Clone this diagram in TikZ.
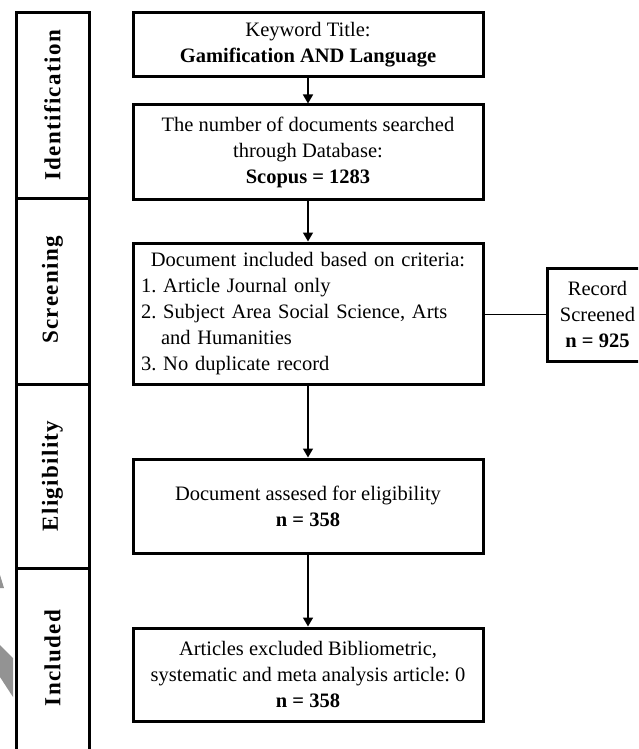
\documentclass[tikz,border=0pt]{standalone}
\usepackage{fontspec}
\setmainfont{Liberation Serif}
\newfontfamily\sidefont[LetterSpace=6]{Liberation Serif}
\usetikzlibrary{arrows.meta}
\frenchspacing
\begin{document}
\begin{tikzpicture}[x=1pt,y=-1pt,
  body/.style={font=\frenchspacing\fontsize{20.5}{26}\selectfont},
  mainbox/.style={draw=black,line width=3pt,minimum width=350pt,inner sep=0pt,align=center,body},
  cell/.style={draw=black,line width=3pt,minimum width=73pt,inner sep=0pt},
  sidelbl/.style={rotate=90,font=\sidefont\fontsize{23}{26}\selectfont\bfseries},
  arr/.style={line width=1.6pt,-{Triangle[width=10pt,length=9pt]}},
  conn/.style={line width=1.6pt}]
\useasboundingbox (0,0) rectangle (638,749);
\begin{scope}
\clip (0,0) rectangle (638,749);
% watermark fragments
\fill[gray!85] (0,575) -- (4,588) -- (0,588) -- cycle;
\fill[gray!85] (0,645) -- (13,658) -- (13,697) -- (0,677) -- cycle;
% stage column
\node[cell,minimum height=185pt] (c1) at (52.5,105.5) {};
\node[cell,minimum height=186pt] (c2) at (52.5,291) {};
\node[cell,minimum height=184pt] (c3) at (52.5,476) {};
\node[cell,minimum height=200pt] (c4) at (52.5,668) {};
\node[sidelbl] (l1) at (c1.center) {Identification};
\node[sidelbl] (l2) at (52.5,290) {Screening};
\node[sidelbl] (l3) at (c3.center) {Eligibility};
\node[sidelbl] (l4) at (52.5,658) {Included};
% main boxes
\node[mainbox,minimum height=64pt] (b1) at (308,45) {Keyword Title:\\\textbf{Gamification AND Language}};
\node[mainbox,minimum height=94pt] (b2) at (308,152) {The number of documents searched\\through Database:\\\textbf{Scopus = 1283}};
\node[mainbox,minimum height=141pt,text width=334pt,align=left] (b3) at (308,313.5) {\makebox[\linewidth]{Document included based on criteria:}\\1. Article Journal only\\2. Subject Area Social Science, Arts\\\hspace*{20pt}and Humanities\\3. No duplicate record};
\node[mainbox,minimum height=94pt] (b4) at (308,506) {Document assesed for eligibility\\\textbf{n = 358}};
\node[mainbox,minimum height=93pt] (b5) at (308,674.5) {Articles excluded Bibliometric,\\systematic and meta analysis article: 0\\\textbf{n = 358}};
\node[draw=black,line width=3pt,minimum width=101pt,minimum height=93pt,inner sep=0pt,align=center,body] (r) at (597.5,314.5) {Record\\Screened\\\textbf{n = 925}};
% connectors
\draw[arr] (b1) -- (b2);
\draw[arr] (b2) -- (b3);
\draw[arr] (b3) -- (b4);
\draw[arr] (b4) -- (b5);
\draw[conn] (b3.east |- r.west) -- (r.west);
\end{scope}
\end{tikzpicture}
\end{document}
